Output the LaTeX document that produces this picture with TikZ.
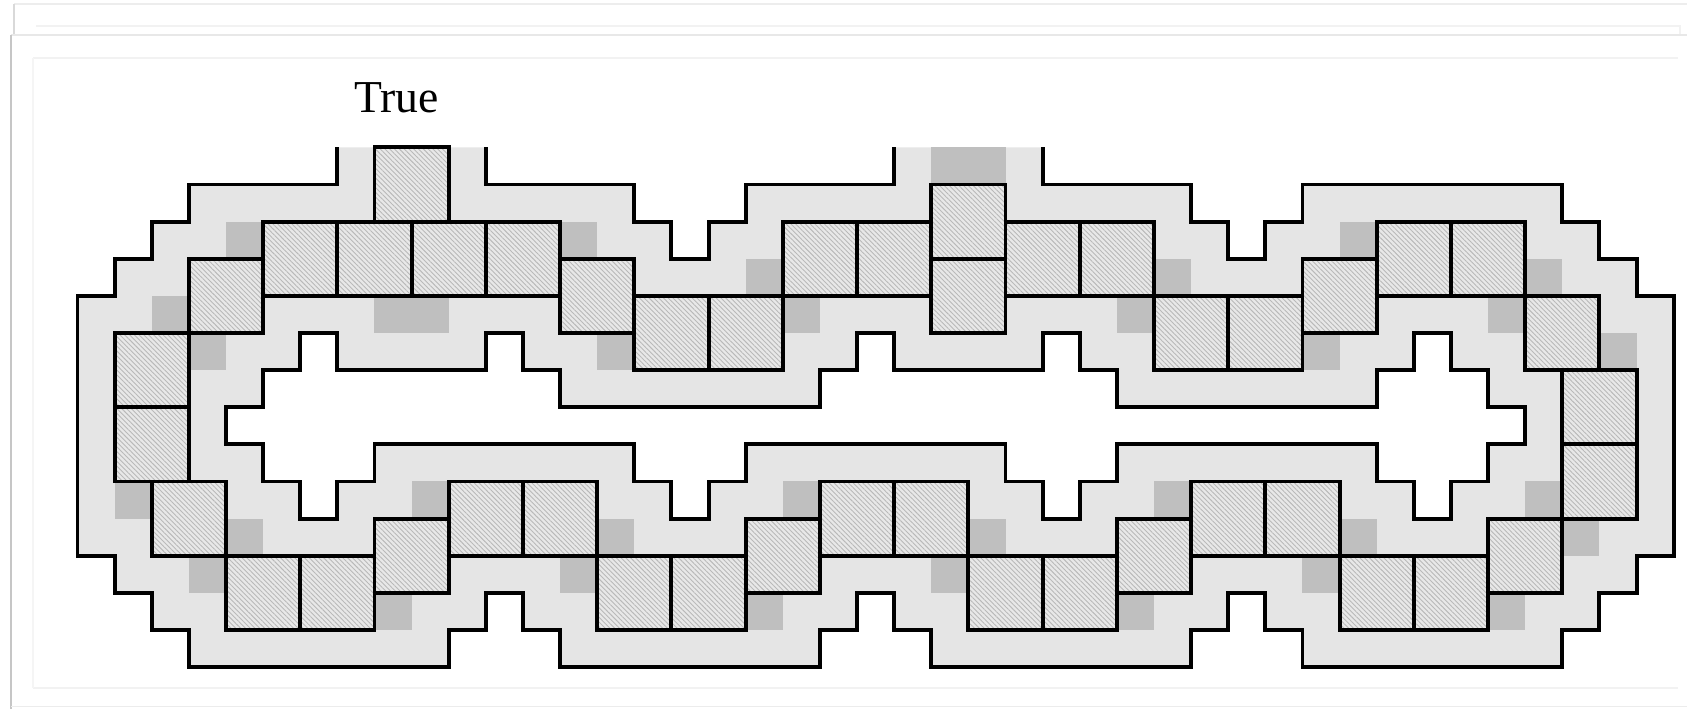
\documentclass[tikz,border=0pt]{standalone}
\usepackage{fontspec}
\setmainfont{Liberation Serif}
\usetikzlibrary{patterns.meta}
\definecolor{bandgray}{RGB}{229,229,229}
\definecolor{shadegray}{RGB}{191,191,191}
\definecolor{cellgray}{RGB}{232,232,232}
\definecolor{hatchgray}{RGB}{185,185,185}
\tikzset{
  band/.style={fill=bandgray, even odd rule},
  outline/.style={draw=black, line width=1.5pt, line join=miter},
  shade/.style={fill=shadegray},
  cellfill/.style={fill=cellgray},
  cellhatch/.style={pattern={Lines[angle=-45,distance=1.3pt,line width=0.35pt]}, pattern color=hatchgray},
  frameline/.style={draw=gray!14, line width=0.5pt},
  cardedge/.style={draw=gray!45, line width=1.1pt},
  labeltext/.style={font=\fontsize{17.5}{19}\selectfont, anchor=base, inner sep=0pt}
}
\begin{document}
\begin{tikzpicture}[x=0.5cm, y=-0.5cm]
\useasboundingbox (-2.088,-3.971) rectangle (43.36,15.13);
% screenshot frame lines
\draw[frameline] (-1.71,-3.86) -- (43.36,-3.86);
\draw[draw=gray!30, line width=0.6pt] (-1.71,-3.86) -- (-1.71,-3.03);
\draw[frameline, draw=gray!10] (-1.12,-3.27) -- (43.17,-3.27) -- (43.17,-3.03);
\draw[frameline, draw=gray!18, line width=0.8pt] (-1.79,-3.03) -- (43.36,-3.03);
\draw[cardedge] (-1.79,-3.03) -- (-1.79,15.13);
\draw[frameline, draw=gray!10] (-1.20,-2.41) -- (43.12,-2.41);
\draw[frameline, draw=gray!10] (-1.20,14.56) -- (43.12,14.56);
\draw[frameline, draw=gray!8] (-1.20,-2.41) -- (-1.20,14.56);
\draw[frameline, draw=gray!15] (-1.79,15.07) -- (43.36,15.07);
% light band with hole
\path[band] (7,0) -- (7,1) -- (3,1) -- (3,2) -- (2,2) -- (2,3) -- (1,3) -- (1,4) -- (0,4) -- (0,11) -- (1,11) -- (1,12) -- (2,12) -- (2,13) -- (3,13) -- (3,14) -- (10,14) -- (10,13) -- (11,13) -- (11,12) -- (12,12) -- (12,13) -- (13,13) -- (13,14) -- (20,14) -- (20,13) -- (21,13) -- (21,12) -- (22,12) -- (22,13) -- (23,13) -- (23,14) -- (30,14) -- (30,13) -- (31,13) -- (31,12) -- (32,12) -- (32,13) -- (33,13) -- (33,14) -- (40,14) -- (40,13) -- (41,13) -- (41,12) -- (42,12) -- (42,11) -- (43,11) -- (43,4) -- (42,4) -- (42,3) -- (41,3) -- (41,2) -- (40,2) -- (40,1) -- (33,1) -- (33,2) -- (32,2) -- (32,3) -- (31,3) -- (31,2) -- (30,2) -- (30,1) -- (26,1) -- (26,0) -- (22,0) -- (22,1) -- (18,1) -- (18,2) -- (17,2) -- (17,3) -- (16,3) -- (16,2) -- (15,2) -- (15,1) -- (11,1) -- (11,0) -- cycle
  (4,7) -- (5,7) -- (5,6) -- (6,6) -- (6,5) -- (7,5) -- (7,6) -- (11,6) -- (11,5) -- (12,5) -- (12,6) -- (13,6) -- (13,7) -- (20,7) -- (20,6) -- (21,6) -- (21,5) -- (22,5) -- (22,6) -- (26,6) -- (26,5) -- (27,5) -- (27,6) -- (28,6) -- (28,7) -- (35,7) -- (35,6) -- (36,6) -- (36,5) -- (37,5) -- (37,6) -- (38,6) -- (38,7) -- (39,7) -- (39,8) -- (38,8) -- (38,9) -- (37,9) -- (37,10) -- (36,10) -- (36,9) -- (35,9) -- (35,8) -- (28,8) -- (28,9) -- (27,9) -- (27,10) -- (26,10) -- (26,9) -- (25,9) -- (25,8) -- (18,8) -- (18,9) -- (17,9) -- (17,10) -- (16,10) -- (16,9) -- (15,9) -- (15,8) -- (8,8) -- (8,9) -- (7,9) -- (7,10) -- (6,10) -- (6,9) -- (5,9) -- (5,8) -- (4,8) -- cycle;
% darker shade squares
\foreach \x/\y in {4/2,2/4,3/5,1/9,4/10,3/11,8/12,9/9,13/2,14/5,18/3,19/4,29/3,28/4,33/5,14/10,13/11,18/12,19/9,24/10,23/11,28/12,29/9,33/11,34/2,38/4,39/3,41/5,34/10,38/12,39/9,40/10}
  {\path[shade] (\x,\y) rectangle ++(1,1);}
\path[shade] (8,4) rectangle (10,5);
\path[shade] (23,0) rectangle (25,1);
% hatched cells
\foreach \x/\y in {8/0,5/2,7/2,9/2,11/2,13/3,15/4,17/4,19/2,21/2,23/1,23/3,25/2,27/2,29/4,31/4,33/3,35/2,37/2,39/4,40/6,40/8,38/10,36/11,34/11,32/9,30/9,28/10,26/11,24/11,22/9,20/9,18/10,16/11,14/11,12/9,10/9,8/10,6/11,4/11,2/9,1/7,1/5,3/3}
  {\path[cellfill] (\x,\y) rectangle ++(2,2);
   \path[cellhatch] (\x,\y) rectangle ++(2,2);
   \draw[outline] (\x,\y) rectangle ++(2,2);}
% outlines
\draw[outline] (11,0) -- (11,1) -- (15,1) -- (15,2) -- (16,2) -- (16,3) -- (17,3) -- (17,2) -- (18,2) -- (18,1) -- (22,1) -- (22,0);
\draw[outline] (26,0) -- (26,1) -- (30,1) -- (30,2) -- (31,2) -- (31,3) -- (32,3) -- (32,2) -- (33,2) -- (33,1) -- (40,1) -- (40,2) -- (41,2) -- (41,3) -- (42,3) -- (42,4) -- (43,4) -- (43,11) -- (42,11) -- (42,12) -- (41,12) -- (41,13) -- (40,13) -- (40,14) -- (33,14) -- (33,13) -- (32,13) -- (32,12) -- (31,12) -- (31,13) -- (30,13) -- (30,14) -- (23,14) -- (23,13) -- (22,13) -- (22,12) -- (21,12) -- (21,13) -- (20,13) -- (20,14) -- (13,14) -- (13,13) -- (12,13) -- (12,12) -- (11,12) -- (11,13) -- (10,13) -- (10,14) -- (3,14) -- (3,13) -- (2,13) -- (2,12) -- (1,12) -- (1,11) -- (0,11) -- (0,4) -- (1,4) -- (1,3) -- (2,3) -- (2,2) -- (3,2) -- (3,1) -- (7,1) -- (7,0);
\draw[outline] (4,7) -- (5,7) -- (5,6) -- (6,6) -- (6,5) -- (7,5) -- (7,6) -- (11,6) -- (11,5) -- (12,5) -- (12,6) -- (13,6) -- (13,7) -- (20,7) -- (20,6) -- (21,6) -- (21,5) -- (22,5) -- (22,6) -- (26,6) -- (26,5) -- (27,5) -- (27,6) -- (28,6) -- (28,7) -- (35,7) -- (35,6) -- (36,6) -- (36,5) -- (37,5) -- (37,6) -- (38,6) -- (38,7) -- (39,7) -- (39,8) -- (38,8) -- (38,9) -- (37,9) -- (37,10) -- (36,10) -- (36,9) -- (35,9) -- (35,8) -- (28,8) -- (28,9) -- (27,9) -- (27,10) -- (26,10) -- (26,9) -- (25,9) -- (25,8) -- (18,8) -- (18,9) -- (17,9) -- (17,10) -- (16,10) -- (16,9) -- (15,9) -- (15,8) -- (8,8) -- (8,9) -- (7,9) -- (7,10) -- (6,10) -- (6,9) -- (5,9) -- (5,8) -- (4,8) -- cycle;
% label
\node[labeltext] (truelabel) at (8.6,-0.93) {True};
\end{tikzpicture}
\end{document}
